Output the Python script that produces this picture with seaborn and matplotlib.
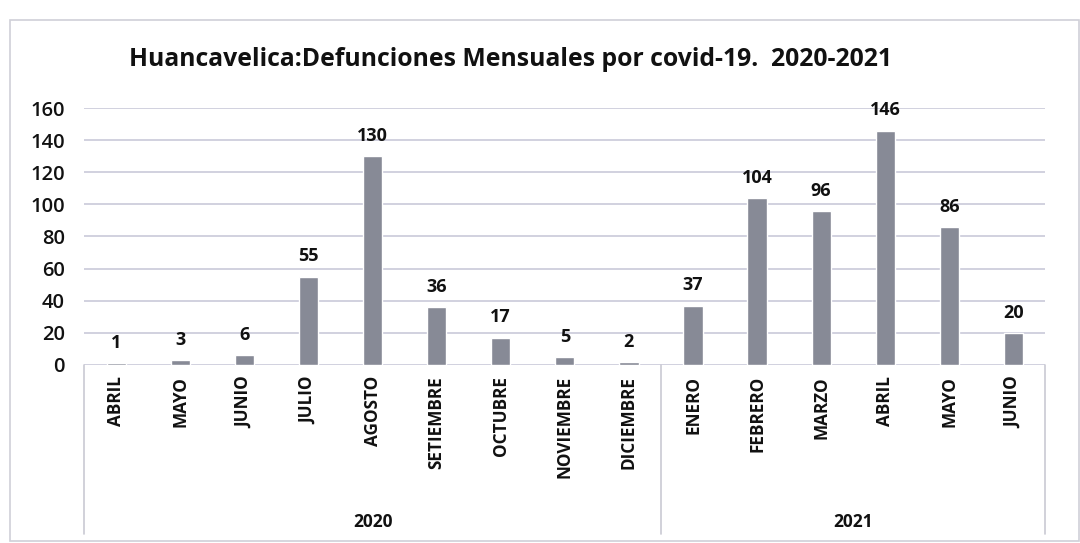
import pandas as pd
from matplotlib import pyplot as plt
from matplotlib.patches import Rectangle
import matplotlib.transforms as mtransforms
import seaborn as sns

# datos del grafico
anios = ["2020"] * 9 + ["2021"] * 6
meses = ["ABRIL", "MAYO", "JUNIO", "JULIO", "AGOSTO", "SETIEMBRE", "OCTUBRE",
         "NOVIEMBRE", "DICIEMBRE", "ENERO", "FEBRERO", "MARZO", "ABRIL", "MAYO", "JUNIO"]
defunciones = [1, 3, 6, 55, 130, 36, 17, 5, 2, 37, 104, 96, 146, 86, 20]
grupos = ["2020", "2021"]

df = pd.DataFrame({"Anio": anios, "Mes": meses, "Defunciones": defunciones})
df["Clave"] = df["Anio"] + "-" + df["Mes"]

sns.set_style("white")
plt.rcParams["font.family"] = ["Open Sans", "DejaVu Sans"]

fig = plt.figure(figsize=(10.8, 5.43), dpi=100)
ax = fig.add_axes([0.078, 0.328, 0.89, 0.473])

sns.barplot(x="Clave", y="Defunciones", data=df, color="#878a96",
            width=0.3, saturation=1, ax=ax, order=list(df["Clave"]))
ax.bar_label(ax.containers[0], padding=8, fontsize=13, fontweight="bold", color="#111111")

ax.set_ylim(0, 160)
ax.set_yticks(range(0, 161, 20))
ax.tick_params(axis="y", labelsize=14.5, length=0, pad=14, colors="#111111")
for t in ax.get_yticklabels():
    t.set_fontweight("semibold")
ax.set_xticks(range(len(meses)))
ax.set_xticklabels(meses, rotation=90, color="#111111")
for t in ax.get_xticklabels():
    t.set_fontsize(12.3)
    t.set_fontweight("bold")
ax.tick_params(axis="x", length=0, pad=8)
ax.set_xlim(-0.5, len(meses) - 0.5)
ax.set_xlabel("")
ax.set_ylabel("")
ax.grid(axis="y", color="#c9c9d9", linewidth=1.2)
ax.set_axisbelow(True)
sns.despine(ax=ax, left=True, bottom=True, right=True, top=True)

# lineas de agrupacion por anio
trans = mtransforms.blended_transform_factory(ax.transData, ax.transAxes)
for xb in [-0.5, 8.5, len(meses) - 0.5]:
    ax.plot([xb, xb], [0, -0.66], transform=trans, color="#c9c9d3", lw=1.2, clip_on=False)
inicio = 0
for g in grupos:
    n = anios.count(g)
    ax.text(inicio + (n - 1) / 2, -0.61, g, transform=trans, ha="center", va="center",
            fontsize=12.5, fontweight="bold", color="#111111")
    inicio += n

ax.set_title("Huancavelica:Defunciones Mensuales por covid-19.  2020-2021",
             fontsize=17.8, fontweight="bold", color="#111111", pad=30, x=0.443)

fig.patches.append(Rectangle((0.009, 0.004), 0.99, 0.96, transform=fig.transFigure,
                             fill=False, edgecolor="#d0d0d8", lw=1.2))

fig.savefig("out.png")
